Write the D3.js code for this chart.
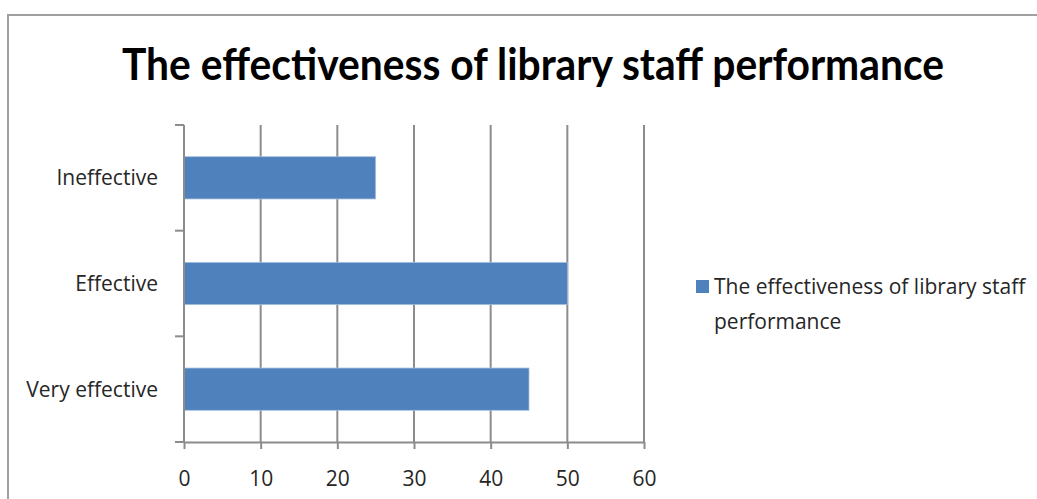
<!DOCTYPE html>
<html>
<head>
<meta charset="utf-8">
<script src="https://cdn.jsdelivr.net/npm/d3@7"></script>
<style>
  html, body { margin: 0; padding: 0; background: #fff; }
  svg { display: block; }
  text { font-family: "Open Sans", "Liberation Sans", sans-serif; }
  text.chart-title { font-family: Lato, "Open Sans", sans-serif; }
</style>
</head>
<body>
<svg id="chart" width="1037" height="499"></svg>
<script>
// Survey results: effectiveness of library staff performance
const categories = ["Very effective", "Effective", "Ineffective"];
const values = [45, 50, 25];
const xTicks = [0, 10, 20, 30, 40, 50, 60];
const chartTitle = "The effectiveness of library staff performance";
const seriesName = "The effectiveness of library staff performance";
const legendLines = ["The effectiveness of library staff", "performance"];

const svg = d3.select("#chart");
const W = 1037, H = 499;
const plot = { left: 184, right: 644, top: 125, bottom: 442 };
const barColor = "#4f81bd";
const gridColor = "#8c8c8c";
const labelColor = "#262626";

// Outer chart frame (only top and left edges fall inside the view)
svg.append("path")
  .attr("d", `M8,${H} L8,15 L${W},15`)
  .attr("fill", "none")
  .attr("stroke", "#a0a0a0")
  .attr("stroke-width", 2);

// Title
svg.append("text")
  .attr("class", "chart-title")
  .attr("x", 533).attr("y", 80)
  .attr("text-anchor", "middle")
  .attr("font-size", 43)
  .attr("font-weight", "bold")
  .attr("fill", "#000")
  .attr("textLength", 822)
  .attr("lengthAdjust", "spacingAndGlyphs")
  .text(chartTitle);

const x = d3.scaleLinear().domain([0, 60]).range([plot.left, plot.right]);
const y = d3.scaleBand().domain(categories).range([plot.bottom, plot.top]).padding(0);

// Vertical gridlines
svg.append("g").selectAll("line")
  .data(xTicks.filter(t => t > 0))
  .join("line")
  .attr("x1", d => x(d)).attr("x2", d => x(d))
  .attr("y1", plot.top).attr("y2", plot.bottom)
  .attr("stroke", gridColor).attr("stroke-width", 2);

// Bars
const barH = y.bandwidth() * 0.4;
svg.append("g").selectAll("rect")
  .data(categories.map((c, i) => ({ c, v: values[i] })))
  .join("rect")
  .attr("x", x(0))
  .attr("y", d => y(d.c) + (y.bandwidth() - barH) / 2)
  .attr("width", d => x(d.v) - x(0))
  .attr("height", barH)
  .attr("fill", barColor)
  .attr("stroke", "#a7bfdf")
  .attr("stroke-width", 0.8);

// X axis
const xAxis = svg.append("g")
  .attr("transform", `translate(0,${plot.bottom})`)
  .call(d3.axisBottom(x).tickValues(xTicks).tickSize(7).tickPadding(22).tickSizeOuter(0));
xAxis.select(".domain").attr("stroke", gridColor).attr("stroke-width", 2);
xAxis.selectAll(".tick line").attr("stroke", gridColor).attr("stroke-width", 2);
xAxis.selectAll(".tick text")
  .attr("font-size", 21).attr("fill", labelColor);

// Y axis: ticks on category boundaries, labels centred in bands
const yAxisG = svg.append("g");
yAxisG.append("line")
  .attr("x1", plot.left).attr("x2", plot.left)
  .attr("y1", plot.top).attr("y2", plot.bottom)
  .attr("stroke", gridColor).attr("stroke-width", 2);
const boundaries = categories.map(c => y(c)).concat([plot.bottom]);
yAxisG.selectAll("line.tick")
  .data(boundaries)
  .join("line")
  .attr("class", "tick")
  .attr("x1", plot.left - 9).attr("x2", plot.left)
  .attr("y1", d => d).attr("y2", d => d)
  .attr("stroke", gridColor).attr("stroke-width", 2);
yAxisG.selectAll("text")
  .data(categories)
  .join("text")
  .attr("x", 158)
  .attr("y", d => y(d) + y.bandwidth() / 2)
  .attr("dy", "0.35em")
  .attr("text-anchor", "end")
  .attr("font-size", 21)
  .attr("fill", labelColor)
  .text(d => d);

// Legend
const legend = svg.append("g").attr("aria-label", seriesName);
legend.append("rect")
  .attr("x", 696).attr("y", 280).attr("width", 13).attr("height", 13)
  .attr("fill", barColor);
legend.selectAll("text")
  .data(legendLines)
  .join("text")
  .attr("x", 714)
  .attr("y", (d, i) => 287 + i * 35)
  .attr("dy", "0.35em")
  .attr("font-size", 21)
  .attr("fill", labelColor)
  .text(d => d);
</script>
</body>
</html>
